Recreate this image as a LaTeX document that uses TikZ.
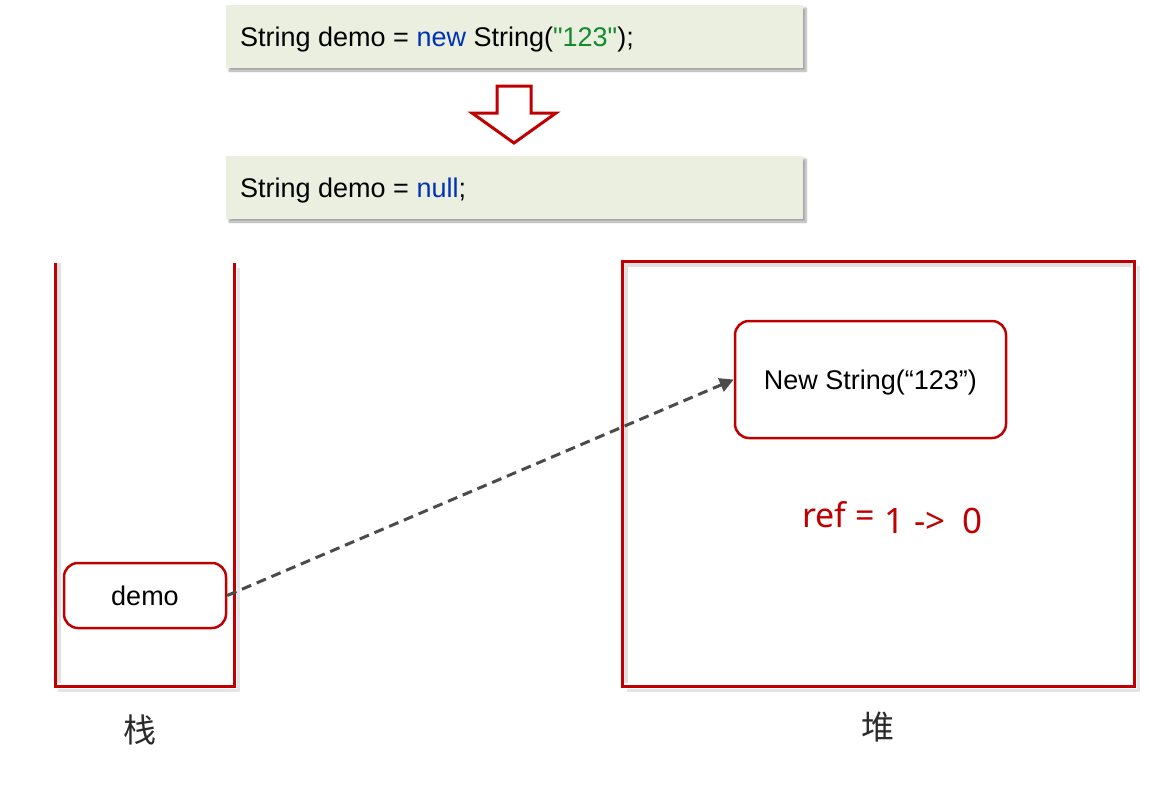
\documentclass[tikz,border=0pt]{standalone}
\usepackage{fontspec}
\setmainfont{Liberation Sans}
\newfontfamily\codefont{Liberation Sans}[Ligatures=ResetAll]
\newfontfamily\cjk{Noto Sans CJK SC}
\newfontfamily\reffont{Noto Sans}
\usetikzlibrary{arrows.meta,shadows.blur}
\definecolor{bordred}{HTML}{C00000}
\definecolor{codebg}{HTML}{EBEFDF}
\definecolor{kwblue}{HTML}{0033B3}
\definecolor{strgreen}{HTML}{138A2E}
\definecolor{arrowgray}{HTML}{4A4C4C}
\definecolor{labgray}{HTML}{2B2B2B}
\tikzset{
  codebox/.style={fill=codebg, blur shadow={shadow xshift=3pt, shadow yshift=-3pt, shadow blur steps=6, shadow opacity=35}},
  codetext/.style={anchor=base west, inner sep=0pt, font=\codefont\fontsize{27}{30}\selectfont},
  redframe/.style={draw=bordred, line width=3pt},
  roundbox/.style={draw=bordred, line width=2.5pt, rounded corners=14pt, fill=white, inner sep=0pt, font=\fontsize{27}{30}\selectfont},
  innershade/.style={draw=black!12, line width=4pt},
  reflink/.style={draw=arrowgray, line width=3pt, dash pattern=on 10pt off 6pt, -{Triangle[length=14pt,width=14pt]}},
  cnlabel/.style={text=labgray, inner sep=0pt, font=\cjk\fontsize{33}{35}\selectfont},
  reftext/.style={text=bordred, inner sep=0pt, anchor=base west}
}
\begin{document}
\begin{tikzpicture}[x=1pt,y=-1pt]
\useasboundingbox (0,0) rectangle (1149,788);
% code boxes
\path[codebox] (226,5) rectangle (803,68);
\path[codebox] (226,156) rectangle (803,219);
\node[codetext] (code1) at (240,46) {String demo = \textcolor{kwblue}{new} String(\textcolor{strgreen}{"123"});};
\node[codetext] (code2) at (240,197) {String demo = \textcolor{kwblue}{null};};
% hollow down arrow
\draw[draw=bordred, line width=3pt, fill=white, line join=miter]
  (497,86) -- (531,86) -- (531,113) -- (556,113) -- (514,143) -- (472,113) -- (497,113) -- cycle;
% stack (open top)
\fill[black!10] (237,268) rectangle (240,690);
\fill[black!10] (58,689) rectangle (240,692);
\draw[innershade] (59,263) -- (59,683);
\draw[redframe] (55,263) -- (55,686) -- (234,686) -- (234,263);
% heap
\fill[black!10] (1137,266) rectangle (1140,692);
\fill[black!10] (627,689) rectangle (1140,692);
\draw[innershade] (626,683) -- (626,265) -- (1131,265);
\draw[redframe] (622,261) rectangle (1134,686);
% inner nodes
\node[roundbox, minimum width=162pt, minimum height=65pt] (demo) at (145,595.5) {demo};
\node[roundbox, minimum width=271pt, minimum height=117pt] (obj) at (870.5,379.5) {\raisebox{-10pt}[0pt][0pt]{New String(“123”)}};
\draw[reflink] (demo.east) -- (obj.west);
% ref count
\node[reftext, font=\reffont\fontsize{34}{38}\selectfont] (refl) at (802,527) {ref =};
\node[reftext, font=\reffont\fontsize{35}{38}\selectfont] (refv) at (884,533) {1\hspace{10pt}->\hspace{17pt}0};
% labels
\node[cnlabel] (stacklabel) at (140,730) {栈};
\node[cnlabel] (heaplabel) at (878,727) {堆};
\end{tikzpicture}
\end{document}
